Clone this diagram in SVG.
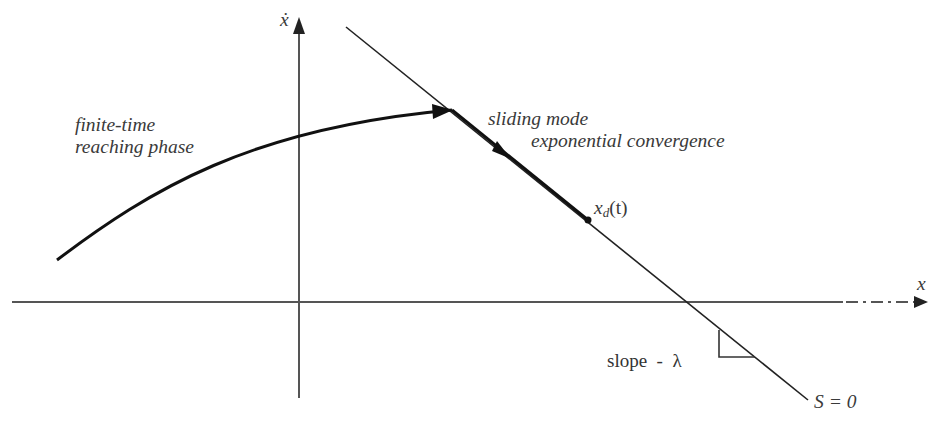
<svg xmlns="http://www.w3.org/2000/svg" width="928" height="421" viewBox="0 0 928 421">
<style>
.it{font-family:"Liberation Serif","DejaVu Serif",serif;font-style:italic;fill:#3a3a3a;font-size:19.5px}
.rm{font-family:"Liberation Serif","DejaVu Serif",serif;fill:#333;font-size:19px}
.axis{stroke:#555;stroke-width:2;fill:none}
</style>
<g id="axes">
<line class="axis" x1="12" y1="302" x2="843" y2="302"/>
<line class="axis" x1="846" y1="302" x2="916" y2="302" stroke-dasharray="12,5,3,5"/>
<path d="M914,296 L928,302 L914,308 z" fill="#222"/>
<line class="axis" x1="299" y1="398" x2="299" y2="30"/>
<path d="M293,34 L299,17 L305,34 z" fill="#222"/>
<text class="it" x="280" y="26" font-size="18">ẋ</text>
<text class="it" x="917" y="290" font-size="18">x</text>
</g>
<g id="sliding-surface">
<line x1="346" y1="27" x2="808" y2="400" stroke="#222" stroke-width="1.6"/>
<path d="M719,330 L719,357 L755,357" fill="none" stroke="#333" stroke-width="1.6"/>
<text class="rm" x="607" y="367" xml:space="preserve">slope  -  λ</text>
<text class="it" x="814" y="408" font-size="20">S = 0</text>
</g>
<g id="connectors">
<path d="M57,260 C150,190 250,128 452,110" fill="none" stroke="#111" stroke-width="3"/>
<path d="M432,104 L453,110 L433,119 z" fill="#111"/>
<line x1="452" y1="110" x2="588" y2="220" stroke="#111" stroke-width="3"/>
<path d="M497,141 L511,159 L492,151 z" fill="#111"/>
<circle cx="588" cy="220" r="3.5" fill="#111"/>
</g>
<g id="labels">
<text class="it" x="75" y="131">finite-time</text>
<text class="it" x="75" y="153">reaching phase</text>
<text class="it" x="488" y="125">sliding mode</text>
<text class="it" x="531" y="147">exponential convergence</text>
<text class="it" x="594" y="214" font-size="20">x<tspan font-size="13" dy="3">d</tspan><tspan font-style="normal" dy="-3">(t)</tspan></text>
</g>
</svg>
